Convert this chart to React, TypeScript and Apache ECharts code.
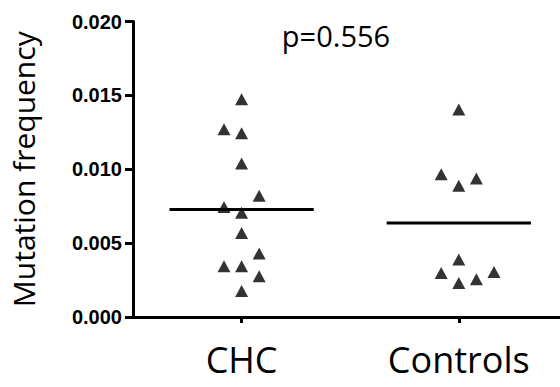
import React, { useEffect, useRef } from "react";
import * as echarts from "echarts";

const categories = ["CHC", "Controls"];
const chcValues = [0.01473, 0.0127, 0.01243, 0.01039, 0.00821, 0.00745, 0.00705, 0.00569, 0.0043, 0.00343, 0.00343, 0.00276, 0.00176];
const chcColumns = [0, -1, 0, 0, 1, -1, 0, 0, 1, -1, 0, 1, 0];
const controlValues = [0.01405, 0.00967, 0.00938, 0.00888, 0.00389, 0.00305, 0.00298, 0.00255, 0.0023];
const controlColumns = [0, -1, 1, 0, 0, 2, -1, 1, 0];
const means = [0.00728, 0.00637];
const yTicks = [0, 0.005, 0.01, 0.015, 0.02];
const pLabel = "p=0.556";

const COL_STEP = 0.081;
const HALF_LINE = 0.332;

export default function App() {
  const ref = useRef<HTMLDivElement>(null);
  useEffect(() => {
    if (!ref.current) return;
    const chart = echarts.init(ref.current, null, { renderer: "svg" });
    const toPts = (vals: number[], cols: number[], cat: number) =>
      vals.map((v, i) => [cat + 1 + cols[i] * COL_STEP, v]);
    const groups = [
      toPts(chcValues, chcColumns, 0),
      toPts(controlValues, controlColumns, 1),
    ];
    const series: any[] = [];
    groups.forEach((pts) => {
      series.push({
        type: "scatter",
        data: pts,
        symbol: "triangle",
        symbolSize: [13, 12],
        itemStyle: { color: "#000" },
        z: 3,
      });
    });
    means.forEach((m, i) => {
      series.push({
        type: "line",
        data: [
          [i + 1 - HALF_LINE, m],
          [i + 1 + HALF_LINE, m],
        ],
        symbol: "none",
        lineStyle: { color: "#000", width: 3 },
        z: 2,
      });
    });
    chart.setOption({
      animation: false,
      grid: { left: 121, right: 0, top: 21.5, bottom: 70, containLabel: false },
      xAxis: {
        type: "value",
        min: 0.5,
        max: 2.466,
        splitLine: { show: false },
        axisLine: { lineStyle: { color: "#000", width: 3 } },
        axisTick: { customValues: [1, 2], length: 6, lineStyle: { color: "#000", width: 3 } },
        axisLabel: {
          customValues: [1, 2],
          formatter: (v: number) => categories[Math.round(v) - 1] ?? "",
          margin: 24,
          fontFamily: "Open Sans",
          fontSize: 36,
          color: "#000",
        },
      },
      yAxis: {
        type: "value",
        min: 0,
        max: 0.02,
        interval: 0.005,
        splitLine: { show: false },
        axisLine: { show: true, lineStyle: { color: "#000", width: 3 } },
        axisTick: { show: true, length: 8, lineStyle: { color: "#000", width: 3 } },
        axisLabel: {
          formatter: (v: number) => (yTicks.some((t) => Math.abs(t - v) < 1e-9) ? v.toFixed(3) : ""),
          margin: 11,
          fontFamily: "Liberation Sans",
          fontWeight: "bold",
          fontSize: 20,
          color: "#000",
        },
        name: "Mutation frequency",
        nameLocation: "middle",
        nameGap: 95,
        nameTextStyle: { fontFamily: "Open Sans", fontSize: 30, color: "#000" },
      },
      graphic: [
        {
          type: "text",
          x: 336,
          y: 35,
          style: {
            text: pLabel,
            font: "29px 'Open Sans'",
            fill: "#000",
            textAlign: "center",
            textVerticalAlign: "middle",
          },
        },
      ],
      series,
    });
    return () => chart.dispose();
  }, []);
  return (
    <div
      ref={ref}
      style={{ position: "fixed", left: 0, top: 0, width: 560, height: 387, background: "#fff" }}
    />
  );
}
